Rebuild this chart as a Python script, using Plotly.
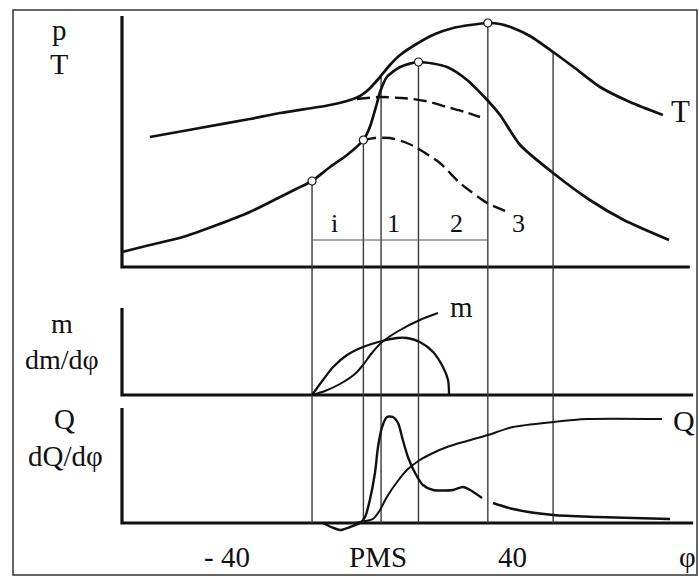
import plotly.graph_objects as go

# ---------------- data (crank angle phi in degrees, values in arbitrary units) -------------
# top panel: temperature T and pressure p
T_phi = [-66.8, -52.1, -37.4, -28.5, -13.8, -7.9, -5.0, -2.6, 0.9, 3.8, 6.8, 12.6, 17.1,
         22.4, 27.4, 32.6, 36.2, 40.0, 45.0, 51.8, 58.2, 65.6, 74.4, 84.1]
T_val = [130, 139, 148, 154, 162, 167, 171, 177, 190, 202, 212, 225, 233,
         239, 242, 244, 243, 239, 231, 215, 199, 180, 165, 152]
T_mot_phi = [-5.9, 0.9, 6.8, 10.6, 15.6, 20.6, 25.9, 30.3]
T_mot_val = [168, 170, 169, 168, 165, 160, 155, 150]

p_phi = [-75.0, -66.8, -57.1, -47.1, -37.4, -28.5, -23.8, -19.1, -13.8, -8.8, -4.0, -2.1,
         0.0, 0.9, 2.9, 6.8, 12.2, 20.6, 26.5, 32.4, 36.2, 42.1, 51.8, 62.6, 72.6, 85.9]
p_val = [15, 22, 30, 42, 55, 70, 78, 86, 100, 112, 127, 140,
         164, 175, 190, 200, 205, 200, 187, 167, 152, 122, 94, 67, 47, 27]
p_mot_phi = [-4.0, -0.6, 3.8, 8.8, 11.8, 18.5, 24.4, 32.4, 38.5]
p_mot_val = [127, 129, 129, 124, 119, 104, 84, 64, 55]

mark_phi = [-19.1, -4.0, 12.2, 32.6]
mark_val = [86, 127, 205, 244]

# phase boundaries (vertical lines) and their upper ends in the top panel
event_phi = [-19.1, -4.0, 1.2, 12.2, 32.6, 51.8]
event_top = [86, 127, 191, 205, 244, 215]
phase_bar_val = 27
phase_labels = ["i", "1", "2", "3"]
phase_label_phi = [-12.4, 5.0, 23.5, 41.5]
phase_label_val = 44

# middle panel: injected mass m and injection rate dm/dphi
dm_phi = [-19.1, -15.9, -12.9, -8.8, -4.1, 1.5, 5.9, 8.8, 12.6, 16.5, 19.4, 20.9, 21.2]
dm_val = [0, 15, 28, 40, 48, 54, 57, 57, 53, 43, 28, 15, 0]
m_phi = [-19.1, -15.3, -10.9, -6.5, -4.1, -1.5, 1.5, 6.8, 12.6, 17.9]
m_val = [0, 4, 11, 21, 30, 42, 53, 65, 75, 82]

# bottom panel: heat release Q and heat release rate dQ/dphi
dQ_phi = [-15.9, -13.5, -10.9, -7.9, -5.0, -3.5, -2.1, -0.6, 0.3, 1.5, 2.9, 4.7, 6.2, 7.6,
          9.1, 11.2, 13.5, 16.5, 22.4, 25.3, 27.4, 30.9, None, 34.1, 40.0, 51.8, 64.7, 86.2]
dQ_val = [0, -4, -7, -4, 0, 6, 23, 50, 76, 96, 106, 106, 100, 83,
          66, 50, 38, 33, 33, 36, 33, 25, None, 20, 14, 8, 6, 4]
Q_phi = [-6.5, -3.5, -1.2, 0.9, 2.9, 5.9, 8.8, 12.6, 16.5, 20.6, 26.5, 32.6, 40.0, 51.8, 61.8, 83.8]
Q_val = [0, 2, 4, 13, 26, 41, 53, 63, 70, 76, 82, 88, 96, 101, 104, 104]

x_tick_labels = ["- 40", "PMS", "40", "φ"]
x_tick_phi = [-44.1, 0.3, 40.0, 91.2]

# axis extents
phi_min, top_end, mid_end, bot_end = -75.0, 92.0, 93.0, 93.0
top_h, mid_h, bot_h = 251, 87, 115

# ---------------- figure ----------------
BLACK = "#111111"
FONT = "Liberation Serif"
fig = go.Figure()


def line(x, y, ya, width=2.6, dash=None, color=BLACK, shape="spline"):
    fig.add_trace(go.Scatter(x=x, y=y, yaxis=ya, mode="lines",
                             line=dict(color=color, width=width, dash=dash, shape=shape,
                                       smoothing=0.7 if shape == "spline" else None),
                             hoverinfo="skip", showlegend=False, connectgaps=False))


# axes (L shaped)
line([phi_min, phi_min, top_end], [top_h, 0, 0], "y", width=3.2, shape="linear")
line([phi_min, phi_min, mid_end], [mid_h, 0, 0], "y2", width=3.2, shape="linear")
line([phi_min, phi_min, bot_end], [bot_h, 0, 0], "y3", width=3.2, shape="linear")

# vertical phase lines through all three panels
vx, vy_top, vy2, vy3 = [], [], [], []
for ph, tp in zip(event_phi, event_top):
    vx += [ph, ph, None]
    vy_top += [tp, -30, None]
    vy2 += [120, -20, None]
    vy3 += [130, 0, None]
line(vx, vy_top, "y", width=1.4, color="#3a3a3a", shape="linear")
line(vx, vy2, "y2", width=1.4, color="#3a3a3a", shape="linear")
line(vx, vy3, "y3", width=1.4, color="#3a3a3a", shape="linear")

# phase bar
line([event_phi[0], event_phi[4]], [phase_bar_val, phase_bar_val], "y", width=1.0,
     color="#555555", shape="linear")

# curves
line(T_phi, T_val, "y", width=2.7)
line(T_mot_phi, T_mot_val, "y", width=2.4, dash="13px,6px")
line(p_phi, p_val, "y", width=2.7)
line(p_mot_phi, p_mot_val, "y", width=2.4, dash="13px,6px")
line(dm_phi, dm_val, "y2", width=2.3)
line(m_phi, m_val, "y2", width=2.0)
line(dQ_phi, dQ_val, "y3", width=2.4)
line(Q_phi, Q_val, "y3", width=2.0)

fig.add_trace(go.Scatter(x=mark_phi, y=mark_val, yaxis="y", mode="markers",
                         marker=dict(symbol="circle", size=8, color="white",
                                     line=dict(color=BLACK, width=1.2)),
                         hoverinfo="skip", showlegend=False))


# texts
def txt(x, y, s, ya, size=27):
    fig.add_annotation(x=x, y=y, yref=ya, xref="x", text=s, showarrow=False,
                       font=dict(family=FONT, size=size, color=BLACK),
                       xanchor="center", yanchor="middle")


for s, ph in zip(phase_labels, phase_label_phi):
    txt(ph, phase_label_val, s, "y", 26)
txt(89.4, 156, "T", "y", 31)
txt(-93.5, 237, "p", "y", 29)
txt(-93.5, 204, "T", "y", 30)
txt(-92.6, 72, "m", "y2", 28)
txt(-92.6, 36, "dm/dφ", "y2", 28)
txt(25.0, 88, "m", "y2", 29)
txt(-92.0, 104, "Q", "y3", 29)
txt(-91.5, 67, "dQ/dφ", "y3", 29)
txt(90.3, 103, "Q", "y3", 30)
for s, ph in zip(x_tick_labels, x_tick_phi):
    txt(ph, -34, s, "y3", 29)

# outer frame
fig.add_shape(type="rect", xref="paper", yref="paper", x0=13 / 699, x1=697 / 699,
              y0=1 / 576, y1=1 - 10 / 576, line=dict(color="#333333", width=1.5))

# axis frames: x spans full page width, each y axis maps one panel
hidden = dict(visible=False, fixedrange=True)
fig.update_layout(
    width=699, height=576, margin=dict(l=0, r=0, t=0, b=0),
    paper_bgcolor="white", plot_bgcolor="white",
    xaxis=dict(range=[-110.88, 94.71], domain=[0, 1], **hidden),
    yaxis=dict(range=[-21, 267], domain=[0.5, 1.0], **hidden),
    yaxis2=dict(range=[-7, 107], domain=[1 - 402 / 576, 0.5], **hidden),
    yaxis3=dict(range=[-53, 121], domain=[0, 1 - 402 / 576], **hidden),
)

fig.write_html("out.html", config={"displayModeBar": False, "staticPlot": True},
               post_script="document.body.style.margin='0';document.body.style.overflow='hidden';")
